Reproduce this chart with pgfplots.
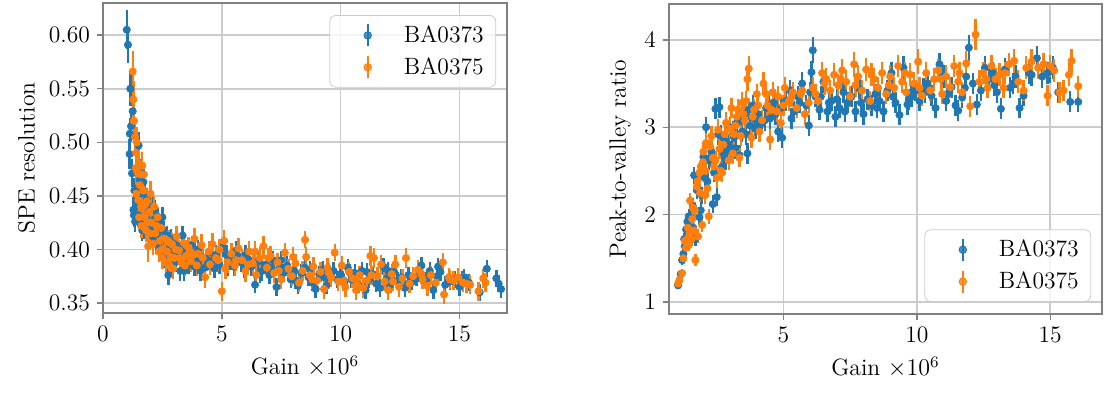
\documentclass[border=0pt]{standalone}
\usepackage{fontspec}
\usepackage{pgfplots}
\usepackage{pgfplotstable}
\pgfplotsset{compat=1.18}
\definecolor{tabblue}{HTML}{1F77B4}
\definecolor{taborange}{HTML}{FF7F0E}
\definecolor{frame}{HTML}{808080}
\definecolor{gridc}{HTML}{CCCCCC}

\pgfplotstableread{
x y e
1.00 0.605 0.018
1.05 0.591 0.017
1.15 0.550 0.016
1.13 0.508 0.015
1.12 0.489 0.014
1.25 0.529 0.016
1.22 0.471 0.013
1.28 0.437 0.012
1.30 0.432 0.011
1.35 0.426 0.010
1.40 0.457 0.012
1.45 0.445 0.011
1.50 0.497 0.013
1.55 0.465 0.012
1.60 0.452 0.011
1.65 0.418 0.010
1.70 0.463 0.011
1.80 0.430 0.010
1.85 0.447 0.010
1.95 0.421 0.010
2.05 0.440 0.010
2.10 0.412 0.009
2.20 0.436 0.010
2.25 0.405 0.009
2.35 0.425 0.009
2.45 0.408 0.009
2.55 0.418 0.009
2.65 0.400 0.009
2.75 0.376 0.009
2.85 0.410 0.009
2.95 0.395 0.009
3.05 0.388 0.009
3.15 0.403 0.009
3.25 0.380 0.009
3.35 0.413 0.009
3.45 0.386 0.009
3.55 0.398 0.009
3.70 0.392 0.009
3.85 0.384 0.009
4.00 0.400 0.009
4.15 0.393 0.009
4.30 0.383 0.009
4.45 0.397 0.009
4.60 0.389 0.009
4.75 0.395 0.009
4.90 0.386 0.009
5.05 0.402 0.009
5.20 0.395 0.009
5.35 0.390 0.009
5.50 0.384 0.009
5.65 0.394 0.009
5.80 0.388 0.009
5.95 0.382 0.009
6.10 0.391 0.009
6.25 0.384 0.009
6.40 0.367 0.008
6.55 0.389 0.009
6.70 0.380 0.009
6.85 0.386 0.009
7.00 0.376 0.008
7.15 0.390 0.009
7.30 0.365 0.008
7.45 0.383 0.009
7.60 0.378 0.008
7.75 0.385 0.009
7.90 0.372 0.008
8.05 0.380 0.008
8.20 0.366 0.008
8.35 0.378 0.008
8.50 0.383 0.008
8.65 0.374 0.008
8.80 0.369 0.008
8.95 0.363 0.008
9.10 0.377 0.008
9.25 0.381 0.008
9.40 0.366 0.008
9.55 0.375 0.008
9.70 0.380 0.008
9.85 0.372 0.008
10.0 0.377 0.008
10.15 0.369 0.008
10.3 0.383 0.008
10.45 0.372 0.008
10.6 0.378 0.008
10.75 0.367 0.008
10.9 0.380 0.008
11.05 0.362 0.008
11.2 0.372 0.008
11.35 0.377 0.008
11.5 0.368 0.008
11.65 0.364 0.008
11.8 0.384 0.008
11.95 0.373 0.008
12.1 0.367 0.008
12.25 0.379 0.008
12.4 0.371 0.008
12.55 0.374 0.008
12.7 0.364 0.008
12.85 0.376 0.008
13.0 0.370 0.008
13.2 0.374 0.008
13.4 0.385 0.008
13.6 0.371 0.008
13.75 0.380 0.008
13.9 0.362 0.008
14.05 0.375 0.008
14.2 0.379 0.008
14.4 0.367 0.008
14.6 0.370 0.008
14.8 0.372 0.008
15.0 0.365 0.008
15.2 0.374 0.008
15.4 0.369 0.008
15.85 0.360 0.008
16.15 0.382 0.008
16.55 0.373 0.008
16.65 0.368 0.008
16.75 0.363 0.008
1.18 0.515 0.015
1.32 0.455 0.012
1.38 0.440 0.011
1.42 0.476 0.012
1.48 0.432 0.011
1.58 0.428 0.010
1.62 0.472 0.012
1.75 0.420 0.010
1.78 0.452 0.011
1.90 0.438 0.010
2.00 0.418 0.010
2.15 0.428 0.010
2.30 0.415 0.009
2.40 0.398 0.009
2.50 0.430 0.010
2.60 0.392 0.009
2.70 0.413 0.009
2.80 0.398 0.009
2.90 0.385 0.009
3.00 0.405 0.009
3.10 0.395 0.009
3.30 0.398 0.009
3.40 0.380 0.009
3.60 0.386 0.009
3.75 0.404 0.009
3.95 0.390 0.009
4.10 0.380 0.009
4.40 0.390 0.009
4.70 0.382 0.009
5.25 0.384 0.009
5.60 0.399 0.009
6.00 0.395 0.009
6.60 0.378 0.009
7.10 0.383 0.009
7.50 0.390 0.009
8.10 0.371 0.008
8.70 0.381 0.008
9.30 0.374 0.008
10.4 0.378 0.008
11.1 0.379 0.008
12.0 0.380 0.008
12.9 0.369 0.008
13.3 0.378 0.008
14.1 0.384 0.008
15.1 0.372 0.008
}\resblue

\pgfplotstableread{
x y e
1.25 0.566 0.019
1.30 0.520 0.016
1.35 0.505 0.015
1.40 0.490 0.014
1.45 0.472 0.013
1.40 0.452 0.013
1.50 0.480 0.013
1.55 0.460 0.012
1.60 0.440 0.012
1.65 0.478 0.013
1.70 0.455 0.012
1.75 0.430 0.011
1.80 0.418 0.011
1.85 0.445 0.011
1.90 0.403 0.015
1.95 0.435 0.011
2.00 0.452 0.012
2.05 0.425 0.010
2.15 0.440 0.010
2.20 0.415 0.010
2.30 0.430 0.010
2.35 0.398 0.010
2.45 0.420 0.010
2.50 0.392 0.010
2.60 0.410 0.010
2.70 0.398 0.010
2.80 0.385 0.010
2.90 0.405 0.010
3.00 0.392 0.010
3.10 0.412 0.010
3.20 0.399 0.010
3.30 0.388 0.010
3.40 0.406 0.010
3.50 0.394 0.010
3.60 0.402 0.010
3.70 0.389 0.010
3.85 0.410 0.010
4.00 0.396 0.010
4.15 0.404 0.010
4.30 0.374 0.010
4.45 0.398 0.010
4.60 0.405 0.010
4.75 0.392 0.010
4.90 0.400 0.010
5.00 0.361 0.009
5.10 0.408 0.010
5.25 0.388 0.010
5.40 0.396 0.010
5.55 0.385 0.010
5.70 0.401 0.010
5.85 0.390 0.010
6.00 0.380 0.010
6.15 0.398 0.010
6.30 0.387 0.010
6.45 0.376 0.010
6.60 0.392 0.010
6.75 0.403 0.010
6.90 0.383 0.009
7.05 0.394 0.009
7.20 0.378 0.009
7.35 0.388 0.009
7.50 0.372 0.009
7.65 0.397 0.009
7.80 0.382 0.009
7.95 0.375 0.009
8.10 0.387 0.009
8.25 0.369 0.009
8.40 0.380 0.009
8.50 0.409 0.008
8.55 0.393 0.009
8.70 0.376 0.009
8.85 0.384 0.009
9.00 0.371 0.009
9.15 0.379 0.009
9.30 0.363 0.009
9.45 0.383 0.009
9.60 0.374 0.009
9.75 0.397 0.008
9.90 0.370 0.009
10.05 0.385 0.009
10.2 0.365 0.009
10.35 0.379 0.009
10.5 0.373 0.009
10.65 0.362 0.009
10.8 0.376 0.009
10.95 0.364 0.009
11.1 0.371 0.009
11.25 0.394 0.009
11.4 0.392 0.009
11.55 0.375 0.009
11.7 0.386 0.009
11.85 0.370 0.009
12.0 0.362 0.009
12.15 0.377 0.009
12.3 0.386 0.009
12.45 0.365 0.009
12.6 0.373 0.009
12.75 0.392 0.009
12.9 0.368 0.009
13.05 0.375 0.009
13.25 0.381 0.009
13.45 0.372 0.009
13.65 0.366 0.009
13.8 0.376 0.009
14.0 0.369 0.009
14.3 0.388 0.009
14.35 0.358 0.009
14.55 0.374 0.009
14.75 0.371 0.009
14.95 0.374 0.009
15.15 0.369 0.009
15.45 0.367 0.009
15.8 0.361 0.009
16.0 0.373 0.009
16.1 0.369 0.009
1.28 0.540 0.017
1.38 0.476 0.013
1.42 0.500 0.014
1.48 0.446 0.012
1.52 0.430 0.011
1.58 0.470 0.012
1.62 0.422 0.011
1.68 0.440 0.011
1.72 0.470 0.012
1.78 0.442 0.011
1.88 0.425 0.011
1.98 0.415 0.010
2.10 0.405 0.010
2.25 0.422 0.010
2.40 0.408 0.010
2.55 0.400 0.010
2.65 0.388 0.010
2.75 0.408 0.010
2.85 0.393 0.010
2.95 0.382 0.010
3.05 0.400 0.010
3.25 0.392 0.010
3.45 0.385 0.010
3.65 0.398 0.010
3.80 0.395 0.010
3.95 0.385 0.010
4.20 0.392 0.010
4.50 0.386 0.010
4.85 0.390 0.010
5.15 0.382 0.010
5.60 0.390 0.010
6.10 0.386 0.010
6.40 0.398 0.010
6.95 0.392 0.009
7.40 0.380 0.009
8.00 0.393 0.009
8.80 0.372 0.009
9.50 0.378 0.009
10.1 0.370 0.009
10.7 0.367 0.009
11.3 0.376 0.009
12.2 0.370 0.009
13.4 0.377 0.009
14.6 0.372 0.009
15.3 0.368 0.009
}\resorange

\pgfplotstableread{
x y e
1.05 1.19 0.04
1.15 1.32 0.05
1.25 1.55 0.07
1.30 1.64 0.07
1.35 1.83 0.08
1.40 1.92 0.08
1.50 1.78 0.08
1.55 1.96 0.09
1.60 2.10 0.09
1.65 2.45 0.10
1.70 1.72 0.08
1.80 2.30 0.10
1.85 1.97 0.09
1.95 2.22 0.10
2.00 2.66 0.11
2.10 3.00 0.12
2.15 2.38 0.10
2.25 2.65 0.11
2.35 2.12 0.10
2.45 3.21 0.12
2.50 2.20 0.10
2.55 2.92 0.12
2.60 3.23 0.12
2.70 2.55 0.11
2.80 2.85 0.12
2.90 2.75 0.12
3.00 3.00 0.12
3.05 2.72 0.12
3.15 2.88 0.12
3.25 3.05 0.12
3.35 2.68 0.12
3.45 2.95 0.12
3.55 3.15 0.12
3.65 2.70 0.12
3.75 3.02 0.12
3.85 3.25 0.12
3.95 2.98 0.12
4.05 3.15 0.12
4.20 3.05 0.12
4.35 3.22 0.12
4.50 3.10 0.12
4.65 3.28 0.12
4.80 2.95 0.12
4.95 2.88 0.12
5.10 3.30 0.12
5.25 3.42 0.12
5.40 3.18 0.12
5.55 3.35 0.12
5.70 3.50 0.13
5.85 3.25 0.12
5.95 3.02 0.12
6.05 3.63 0.13
6.10 3.88 0.15
6.20 3.35 0.12
6.35 3.20 0.12
6.50 3.52 0.13
6.65 3.18 0.12
6.80 3.30 0.12
6.95 3.12 0.12
7.10 3.22 0.12
7.25 3.40 0.12
7.40 3.28 0.12
7.55 3.35 0.12
7.70 3.18 0.12
7.85 3.44 0.12
8.00 3.15 0.12
8.15 3.32 0.12
8.30 3.25 0.12
8.45 3.38 0.12
8.60 3.30 0.12
8.75 3.18 0.12
8.90 3.42 0.12
9.05 3.62 0.13
9.20 3.28 0.12
9.35 3.14 0.12
9.50 3.68 0.13
9.65 3.26 0.12
9.80 3.35 0.12
9.95 3.42 0.12
10.1 3.30 0.12
10.25 3.44 0.12
10.4 3.50 0.12
10.55 3.36 0.12
10.7 3.22 0.12
10.85 3.72 0.13
11.0 3.58 0.13
11.15 3.38 0.12
11.3 3.46 0.12
11.45 3.25 0.12
11.55 3.19 0.12
11.7 3.34 0.12
11.85 3.58 0.13
11.95 3.91 0.15
12.1 3.50 0.12
12.25 3.26 0.12
12.4 3.42 0.12
12.55 3.68 0.13
12.7 3.55 0.12
12.85 3.62 0.13
13.0 3.40 0.12
13.15 3.21 0.12
13.3 3.66 0.13
13.5 3.45 0.12
13.7 3.58 0.13
13.85 3.22 0.12
14.0 3.36 0.12
14.3 3.60 0.13
14.5 3.79 0.14
14.7 3.58 0.13
14.9 3.62 0.13
15.1 3.68 0.13
15.3 3.40 0.12
15.75 3.29 0.12
16.05 3.29 0.12
1.20 1.48 0.06
1.28 1.72 0.07
1.38 1.70 0.07
1.45 1.98 0.08
1.58 1.72 0.08
1.62 1.85 0.08
1.75 2.28 0.10
1.90 2.05 0.09
2.05 2.42 0.10
2.20 2.62 0.11
2.30 2.72 0.11
2.40 2.48 0.11
2.65 2.90 0.12
2.75 2.70 0.11
2.85 2.62 0.11
2.95 2.80 0.12
3.10 2.95 0.12
3.20 2.76 0.12
3.40 3.10 0.12
3.60 2.92 0.12
3.70 3.20 0.12
3.90 3.10 0.12
4.10 3.00 0.12
4.30 3.08 0.12
4.45 3.25 0.12
4.70 3.15 0.12
4.90 3.22 0.12
5.30 3.10 0.12
5.60 3.28 0.12
6.00 3.40 0.12
6.40 3.35 0.12
6.70 3.28 0.12
7.00 3.32 0.12
7.30 3.18 0.12
7.90 3.28 0.12
8.50 3.22 0.12
9.10 3.35 0.12
9.70 3.32 0.12
10.3 3.40 0.12
11.1 3.30 0.12
11.8 3.45 0.12
12.9 3.48 0.12
13.6 3.50 0.12
14.2 3.62 0.13
15.0 3.64 0.13
}\pvblue

\pgfplotstableread{
x y e
1.05 1.21 0.04
1.10 1.25 0.05
1.20 1.33 0.05
1.25 1.50 0.06
1.30 1.70 0.07
1.40 1.72 0.07
1.45 1.65 0.07
1.50 2.16 0.09
1.55 1.72 0.07
1.60 2.08 0.09
1.65 1.82 0.08
1.70 1.48 0.07
1.75 2.32 0.10
1.80 1.75 0.08
1.85 2.48 0.10
1.90 2.55 0.10
1.95 1.88 0.08
2.00 2.72 0.11
2.05 2.22 0.10
2.10 2.82 0.11
2.15 2.30 0.10
2.20 1.98 0.09
2.30 2.90 0.11
2.35 2.65 0.11
2.40 2.55 0.11
2.50 2.42 0.11
2.55 2.97 0.12
2.65 2.50 0.11
2.75 2.80 0.11
2.85 3.05 0.12
2.95 2.62 0.11
3.05 3.22 0.12
3.15 2.92 0.12
3.25 3.12 0.12
3.35 2.65 0.11
3.45 3.28 0.12
3.55 3.08 0.12
3.65 3.55 0.13
3.70 3.67 0.14
3.80 2.88 0.12
3.90 3.20 0.12
4.00 3.38 0.12
4.10 2.95 0.12
4.25 3.50 0.13
4.40 3.25 0.12
4.50 2.86 0.12
4.60 3.40 0.12
4.75 3.18 0.12
4.90 3.05 0.12
5.05 3.45 0.13
5.20 3.30 0.12
5.35 3.40 0.12
5.50 3.22 0.12
5.65 3.38 0.12
5.80 3.15 0.12
5.95 3.28 0.12
6.10 3.45 0.12
6.30 3.30 0.12
6.45 3.62 0.13
6.60 3.55 0.13
6.75 3.42 0.12
6.90 3.60 0.13
7.05 3.48 0.13
7.20 3.65 0.13
7.35 3.52 0.13
7.50 3.35 0.12
7.65 3.72 0.14
7.80 3.58 0.13
7.95 3.42 0.12
8.10 3.66 0.13
8.25 3.30 0.12
8.40 3.55 0.13
8.55 3.45 0.12
8.70 3.62 0.13
8.85 3.38 0.12
9.00 3.58 0.13
9.15 3.45 0.12
9.30 3.70 0.13
9.45 3.52 0.13
9.60 3.40 0.12
9.75 3.60 0.13
9.90 3.50 0.13
10.05 3.75 0.14
10.2 3.36 0.12
10.35 3.62 0.13
10.5 3.42 0.12
10.65 3.55 0.13
10.8 3.65 0.13
10.95 3.38 0.12
11.1 3.58 0.13
11.25 3.46 0.12
11.4 3.70 0.13
11.55 3.52 0.13
11.7 3.40 0.12
11.85 3.73 0.14
12.0 3.24 0.12
12.2 4.06 0.18
12.35 3.52 0.13
12.5 3.62 0.13
12.65 3.45 0.12
12.8 3.70 0.13
12.95 3.55 0.13
13.1 3.60 0.13
13.25 3.45 0.12
13.45 3.72 0.13
13.65 3.76 0.14
13.8 3.52 0.13
14.0 3.42 0.12
14.3 3.75 0.14
14.55 3.68 0.13
14.75 3.72 0.13
14.9 3.36 0.12
15.15 3.65 0.13
15.35 3.40 0.12
15.7 3.60 0.13
15.8 3.76 0.14
16.05 3.47 0.12
1.35 1.62 0.07
1.42 1.85 0.08
1.48 1.78 0.07
1.58 1.95 0.08
1.68 2.05 0.09
1.78 2.38 0.10
1.88 2.25 0.10
1.98 2.60 0.11
2.08 2.50 0.11
2.25 2.78 0.11
2.45 2.62 0.11
2.60 2.75 0.11
2.70 2.48 0.11
2.80 2.92 0.12
3.00 2.98 0.12
3.10 2.70 0.12
3.20 3.02 0.12
3.30 3.20 0.12
3.40 2.90 0.12
3.50 3.15 0.12
3.60 3.30 0.12
3.85 3.12 0.12
4.05 3.25 0.12
4.20 3.08 0.12
4.35 3.38 0.12
4.55 3.20 0.12
4.80 3.35 0.12
5.00 3.25 0.12
5.30 3.35 0.12
5.70 3.42 0.12
6.20 3.38 0.12
6.55 3.50 0.13
7.15 3.55 0.13
7.70 3.48 0.13
8.30 3.60 0.13
8.95 3.48 0.13
9.55 3.62 0.13
10.1 3.45 0.13
10.9 3.55 0.13
11.6 3.62 0.13
12.6 3.55 0.13
13.3 3.62 0.13
14.1 3.68 0.13
15.0 3.70 0.13
15.5 3.42 0.12
}\pvorange

\pgfplotsset{
  myaxis/.style={
    scale only axis,
    height=155pt,
    axis line style={frame, line width=1pt},
    grid=major,
    major grid style={gridc, line width=0.8pt},
    tick align=outside,
    xtick pos=bottom, ytick pos=left,
    major tick length=3pt,
    tick style={frame, line width=0.7pt},
    tick label style={font=\fontsize{11.8}{14}\selectfont},
    /pgf/number format/assume math mode=true,
    label style={font=\fontsize{11.8}{14}\selectfont},
    xlabel={Gain $\times 10^6$},
    legend cell align=left,
    legend style={draw=gridc, rounded corners=3pt, fill=white, fill opacity=0.8, text opacity=1,
      font=\fontsize{11.8}{14}\selectfont, inner xsep=4pt, inner ysep=3pt,
      row sep=2pt},
  },
  errplot/.style={
    only marks, mark=*, mark size=1.8pt, color=#1,
    mark options={draw=#1, fill=#1},
    legend image code/.code={
      \path[draw=none, fill=none] (0pt,-6pt) rectangle (31pt,6pt);
      \draw[line width=1.2pt, #1] (15pt,-5.5pt) -- (15pt,5.5pt);
      \fill[#1] (15pt,0pt) circle (1.9pt);
    },
    error bars/.cd, y dir=both, y explicit, error mark=none,
    error bar style={line width=1.2pt, color=#1},
  },
}

\begin{document}
\begin{tikzpicture}
\begin{axis}[myaxis,
  at={(0pt,0pt)}, anchor=south west,
  width=202pt,
  xmin=0, xmax=17, ymin=0.3407, ymax=0.630,
  xtick={0,5,10,15},
  ytick={0.35,0.40,0.45,0.50,0.55,0.60},
  yticklabel style={/pgf/number format/.cd, fixed, fixed zerofill, precision=2},
  ylabel={SPE resolution},
  legend style={at={(0.973,0.961)}, anchor=north east},
]
\addplot[errplot=tabblue] table[x=x, y=y, y error=e] {\resblue};
\addlegendentry{BA0373}
\addplot[errplot=taborange] table[x=x, y=y, y error=e] {\resorange};
\addlegendentry{BA0375}
\end{axis}

\begin{axis}[myaxis,
  at={(283pt,-0.5pt)}, anchor=south west,
  width=216.5pt,
  xmin=0.71, xmax=16.94, ymin=0.863, ymax=4.41,
  xtick={5,10,15},
  ytick={1,2,3,4},
  ylabel={Peak-to-valley ratio},
  legend style={at={(0.975,0.039)}, anchor=south east},
]
\addplot[errplot=tabblue] table[x=x, y=y, y error=e] {\pvblue};
\addlegendentry{BA0373}
\addplot[errplot=taborange] table[x=x, y=y, y error=e] {\pvorange};
\addlegendentry{BA0375}
\end{axis}
\pgfresetboundingbox
\path[use as bounding box] (-51.5pt,-40.5pt) rectangle (501pt,156.5pt);
\end{tikzpicture}
\end{document}
